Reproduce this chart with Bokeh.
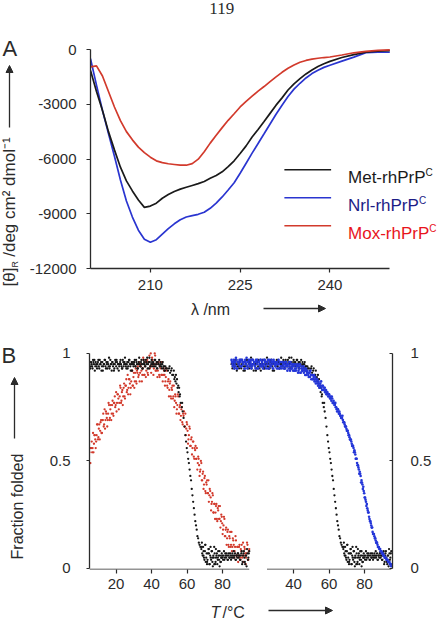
import math
from bokeh.plotting import figure
from bokeh.models import Range1d, LinearAxis, FixedTicker, Label, Arrow, NormalHead
from bokeh.layouts import column, row
from bokeh.embed import file_html
from bokeh.resources import INLINE

FONT = "Liberation Sans"
INK = "#2b2b2b"

# ---------------- Panel A: CD spectra ----------------
wavelength_nm = [200, 201, 202, 203, 204, 205, 206, 207, 208, 209,
                 210, 211, 212, 213, 214, 215, 216, 217, 218, 219,
                 220, 221, 222, 223, 224, 225, 226, 227, 228, 229,
                 230, 231, 232, 233, 234, 235, 236, 237, 238, 239,
                 240, 242, 244, 246, 248, 250]

met_theta = [-1150, -2300, -3340, -4500, -5500, -6450, -7200, -7750, -8250, -8650,
             -8580, -8420, -8150, -7950, -7780, -7650, -7550, -7450, -7350, -7230,
             -7050, -6900, -6700, -6420, -6100, -5700, -5280, -4800, -4380, -3950,
             -3500, -3050, -2650, -2220, -1880, -1600, -1340, -1120, -930, -780,
             -650, -440, -280, -150, -90, -60]

nrl_theta = [-500, -1950, -3340, -4600, -5850, -7150, -8300, -9180, -9900, -10400,
             -10560, -10420, -10120, -9820, -9550, -9330, -9180, -9100, -9030, -8920,
             -8700, -8420, -8080, -7700, -7300, -6780, -6230, -5680, -5150, -4620,
             -4080, -3550, -3060, -2580, -2170, -1850, -1560, -1320, -1140, -980,
             -860, -640, -420, -170, -150, -150]

mox_theta = [-950, -900, -1450, -2300, -3150, -3900, -4500, -4950, -5350, -5650,
             -5900, -6100, -6200, -6260, -6300, -6340, -6340, -6250, -6010, -5600,
             -5130, -4700, -4280, -3880, -3520, -3150, -2840, -2560, -2280, -2030,
             -1760, -1500, -1250, -1030, -850, -700, -600, -530, -480, -440,
             -410, -300, -180, -100, -50, -20]

a_x_ticks = [210, 225, 240]
a_y_ticks = [-12000, -9000, -6000, -3000, 0]

series_names = ["Met-rhPrP", "Nrl-rhPrP", "Mox-rhPrP"]
line_colors = ["#1a1a1a", "#2a35d0", "#d23a2c"]
name_colors = ["#1a1a1a", "#1c1c86", "#e8141c"]

# ---------------- Panel B: thermal unfolding ----------------
scan_T = [5, 5.5, 6, 6.5, 7, 7.5, 8, 8.5, 9, 9.5,
          10, 10.5, 11, 11.5, 12, 12.5, 13, 13.5, 14, 14.5,
          15, 15.5, 16, 16.5, 17, 17.5, 18, 18.5, 19, 19.5,
          20, 20.5, 21, 21.5, 22, 22.5, 23, 23.5, 24, 24.5,
          25, 25.5, 26, 26.5, 27, 27.5, 28, 28.5, 29, 29.5,
          30, 30.5, 31, 31.5, 32, 32.5, 33, 33.5, 34, 34.5,
          35, 35.5, 36, 36.5, 37, 37.5, 38, 38.5, 39, 39.5,
          40, 40.5, 41, 41.5, 42, 42.5, 43, 43.5, 44, 44.5,
          45, 45.5, 46, 46.5, 47, 47.5, 48, 48.5, 49, 49.5,
          50, 50.5, 51, 51.5, 52, 52.5, 53, 53.5, 54, 54.5,
          55, 55.5, 56, 56.5, 57, 57.5, 58, 58.5, 59, 59.5,
          60, 60.5, 61, 61.5, 62, 62.5, 63, 63.5, 64, 64.5,
          65, 65.5, 66, 66.5, 67, 67.5, 68, 68.5, 69, 69.5,
          70, 70.5, 71, 71.5, 72, 72.5, 73, 73.5, 74, 74.5,
          75, 75.5, 76, 76.5, 77, 77.5, 78, 78.5, 79, 79.5,
          80, 80.5, 81, 81.5, 82, 82.5, 83, 83.5, 84, 84.5,
          85, 85.5, 86, 86.5, 87, 87.5, 88, 88.5, 89, 89.5,
          90, 90.5, 91, 91.5, 92, 92.5, 93, 93.5, 94, 94.5,
          95]

# second read-out, interleaved between the scan_T points
scan_T2 = [5.25, 5.75, 6.25, 6.75, 7.25, 7.75, 8.25, 8.75, 9.25, 9.75,
           10.25, 10.75, 11.25, 11.75, 12.25, 12.75, 13.25, 13.75, 14.25, 14.75,
           15.25, 15.75, 16.25, 16.75, 17.25, 17.75, 18.25, 18.75, 19.25, 19.75,
           20.25, 20.75, 21.25, 21.75, 22.25, 22.75, 23.25, 23.75, 24.25, 24.75,
           25.25, 25.75, 26.25, 26.75, 27.25, 27.75, 28.25, 28.75, 29.25, 29.75,
           30.25, 30.75, 31.25, 31.75, 32.25, 32.75, 33.25, 33.75, 34.25, 34.75,
           35.25, 35.75, 36.25, 36.75, 37.25, 37.75, 38.25, 38.75, 39.25, 39.75,
           40.25, 40.75, 41.25, 41.75, 42.25, 42.75, 43.25, 43.75, 44.25, 44.75,
           45.25, 45.75, 46.25, 46.75, 47.25, 47.75, 48.25, 48.75, 49.25, 49.75,
           50.25, 50.75, 51.25, 51.75, 52.25, 52.75, 53.25, 53.75, 54.25, 54.75,
           55.25, 55.75, 56.25, 56.75, 57.25, 57.75, 58.25, 58.75, 59.25, 59.75,
           60.25, 60.75, 61.25, 61.75, 62.25, 62.75, 63.25, 63.75, 64.25, 64.75,
           65.25, 65.75, 66.25, 66.75, 67.25, 67.75, 68.25, 68.75, 69.25, 69.75,
           70.25, 70.75, 71.25, 71.75, 72.25, 72.75, 73.25, 73.75, 74.25, 74.75,
           75.25, 75.75, 76.25, 76.75, 77.25, 77.75, 78.25, 78.75, 79.25, 79.75,
           80.25, 80.75, 81.25, 81.75, 82.25, 82.75, 83.25, 83.75, 84.25, 84.75,
           85.25, 85.75, 86.25, 86.75, 87.25, 87.75, 88.25, 88.75, 89.25, 89.75,
           90.25, 90.75, 91.25, 91.75, 92.25, 92.75, 93.25, 93.75, 94.25, 94.75]

# Met-rhPrPC: plateau 5-48 degC, transition, baseline 68-95 degC
met_plateau_f = [0.95, 0.93, 0.96, 0.94, 0.97, 0.95, 0.92, 0.96, 0.94, 0.95,
                 0.97, 0.93, 0.95, 0.96, 0.94, 0.92, 0.95, 0.97, 0.94, 0.96,
                 0.93, 0.95, 0.98, 0.94, 0.95, 0.92, 0.96, 0.95, 0.93, 0.97,
                 0.94, 0.96, 0.95, 0.92, 0.95, 0.97, 0.94, 0.93, 0.96, 0.95,
                 0.98, 0.94, 0.95, 0.93, 0.96, 0.97, 0.94, 0.95, 0.92, 0.96,
                 0.95, 0.97, 0.94, 0.96, 0.93, 0.95, 0.98, 0.94, 0.96, 0.95,
                 0.93, 0.97, 0.95, 0.94, 0.96, 0.98, 0.95, 0.93, 0.96, 0.94,
                 0.97, 0.95, 0.96, 0.94, 0.97, 0.95, 0.93, 0.96, 0.95, 0.94,
                 0.96, 0.94, 0.95, 0.93, 0.94, 0.92, 0.93]
met_plateau_f2 = [0.96, 0.94, 0.95, 0.93, 0.96, 0.97, 0.94, 0.95, 0.93, 0.96,
                  0.94, 0.97, 0.95, 0.92, 0.96, 0.94, 0.95, 0.97, 0.93, 0.95,
                  0.96, 0.94, 0.93, 0.97, 0.95, 0.96, 0.94, 0.92, 0.95, 0.96,
                  0.97, 0.93, 0.95, 0.94, 0.96, 0.95, 0.93, 0.97, 0.94, 0.96,
                  0.95, 0.93, 0.96, 0.94, 0.97, 0.95, 0.92, 0.96, 0.95, 0.94,
                  0.96, 0.94, 0.97, 0.95, 0.93, 0.96, 0.95, 0.94, 0.97, 0.93,
                  0.95, 0.96, 0.94, 0.97, 0.95, 0.93, 0.96, 0.98, 0.94, 0.95,
                  0.96, 0.94, 0.95, 0.97, 0.94, 0.96, 0.93, 0.95, 0.97, 0.94,
                  0.95, 0.93, 0.96, 0.94, 0.92, 0.94]
met_drop_T = [48.6, 49.2, 49.8, 50.1, 50.4, 51.0, 51.3, 51.6, 52.2, 52.5,
              52.8, 53.1, 53.4, 53.7, 54.0, 54.3, 54.6, 55.0, 55.2, 55.5,
              55.8, 56.0, 56.4, 57.0, 57.2, 57.5, 58.0, 58.5, 59.0, 59.4,
              59.8, 60.2, 60.6, 61.0, 61.4, 61.8, 62.2, 62.6, 63.0, 63.4,
              63.8, 64.2, 64.6, 65.0, 65.4, 65.8, 66.2, 66.6, 67.0, 67.5]
met_drop_f = [0.93, 0.92, 0.93, 0.94, 0.91, 0.92, 0.93, 0.90, 0.90, 0.92,
              0.88, 0.89, 0.87, 0.90, 0.86, 0.88, 0.84, 0.85, 0.82, 0.84,
              0.80, 0.81, 0.77, 0.75, 0.77, 0.73, 0.70, 0.66, 0.62, 0.59,
              0.56, 0.54, 0.51, 0.49, 0.46, 0.43, 0.41, 0.37, 0.34, 0.31,
              0.28, 0.25, 0.22, 0.20, 0.18, 0.15, 0.14, 0.12, 0.11, 0.10]
met_tail_f = [0.09, 0.07, 0.10, 0.05, 0.08, 0.03, 0.07, 0.04, 0.09, 0.02,
              0.06, 0.04, 0.08, 0.01, 0.05, 0.07, 0.03, 0.06, 0.02, 0.08,
              0.04, 0.06, 0.03, 0.07, 0.05, 0.06, 0.04, 0.07, 0.05, 0.06,
              0.04, 0.07, 0.05, 0.06, 0.05, 0.07, 0.06, 0.05, 0.07, 0.04,
              0.06, 0.07, 0.05, 0.06, 0.04, 0.07, 0.02, 0.06, 0.08, 0.03,
              0.06, 0.01, 0.07, 0.05, 0.08]
met_tail_f2 = [0.10, 0.06, 0.08, 0.04, 0.11, 0.05, 0.03, 0.07, 0.09, 0.02,
               0.05, 0.08, 0.03, 0.06, 0.10, 0.02, 0.05, 0.07, 0.04, 0.06,
               0.08, 0.03, 0.05, 0.06, 0.04, 0.08, 0.05, 0.06, 0.07, 0.04,
               0.06, 0.05, 0.07, 0.04, 0.06, 0.05, 0.08, 0.06, 0.04, 0.06,
               0.05, 0.07, 0.06, 0.04, 0.06, 0.08, 0.03, 0.07, 0.05, 0.02,
               0.06, 0.09, 0.04, 0.07]
met_extra_T = [68.3, 69.2, 70.2, 71.2, 72.3, 73.2, 74.2, 75.3, 76.2, 77.3, 78.3, 79.3]
met_extra_f = [0.12, 0.06, 0.11, 0.02, 0.07, 0.10, 0.05, 0.02, 0.09, 0.05, 0.01, 0.05]

met_T = (scan_T[:87] + scan_T2[:86] + met_drop_T + scan_T[126:] + scan_T2[126:]
         + met_extra_T)
met_f = met_plateau_f + met_plateau_f2 + met_drop_f + met_tail_f + met_tail_f2 + met_extra_f

# Mox-rhPrPC
mox_f = [0.54, 0.49, 0.56, 0.54, 0.63, 0.58, 0.62, 0.56, 0.62, 0.67,
         0.61, 0.67, 0.64, 0.69, 0.63, 0.69, 0.66, 0.74, 0.69, 0.72,
         0.66, 0.72, 0.76, 0.70, 0.76, 0.72, 0.78, 0.71, 0.77, 0.75,
         0.82, 0.77, 0.81, 0.74, 0.80, 0.84, 0.78, 0.83, 0.80, 0.86,
         0.79, 0.85, 0.82, 0.90, 0.84, 0.88, 0.81, 0.87, 0.92, 0.85,
         0.91, 0.87, 0.93, 0.86, 0.91, 0.89, 0.96, 0.91, 0.94, 0.87,
         0.93, 0.97, 0.90, 0.96, 0.92, 0.97, 0.90, 0.96, 0.93, 1.00,
         0.94, 0.97, 0.90, 0.95, 0.99, 0.92, 0.96, 0.92, 0.96, 0.89,
         0.93, 0.90, 0.96, 0.90, 0.92, 0.85, 0.89, 0.92, 0.84, 0.88,
         0.83, 0.87, 0.79, 0.83, 0.79, 0.85, 0.78, 0.80, 0.72, 0.76,
         0.80, 0.72, 0.76, 0.71, 0.75, 0.67, 0.71, 0.66, 0.72, 0.65,
         0.67, 0.58, 0.62, 0.65, 0.57, 0.61, 0.56, 0.59, 0.51, 0.55,
         0.51, 0.56, 0.49, 0.51, 0.43, 0.46, 0.49, 0.41, 0.45, 0.39,
         0.43, 0.35, 0.39, 0.35, 0.41, 0.34, 0.36, 0.27, 0.31, 0.34,
         0.26, 0.30, 0.26, 0.30, 0.22, 0.27, 0.23, 0.29, 0.22, 0.24,
         0.16, 0.20, 0.23, 0.15, 0.19, 0.14, 0.18, 0.10, 0.14, 0.10,
         0.17, 0.10, 0.13, 0.05, 0.10, 0.13, 0.06, 0.10, 0.06, 0.11,
         0.04, 0.08, 0.05, 0.12, 0.06, 0.09, 0.02, 0.07, 0.11, 0.04,
         0.09]
mox_f2 = [0.49, 0.56, 0.59, 0.56, 0.54, 0.62, 0.60, 0.59, 0.67, 0.60,
          0.65, 0.60, 0.68, 0.63, 0.69, 0.72, 0.67, 0.65, 0.73, 0.70,
          0.69, 0.77, 0.69, 0.74, 0.69, 0.76, 0.72, 0.77, 0.80, 0.76,
          0.73, 0.81, 0.79, 0.77, 0.85, 0.77, 0.82, 0.76, 0.84, 0.80,
          0.85, 0.88, 0.83, 0.81, 0.88, 0.86, 0.84, 0.92, 0.85, 0.89,
          0.84, 0.91, 0.87, 0.92, 0.94, 0.90, 0.87, 0.95, 0.92, 0.90,
          0.98, 0.90, 0.94, 0.89, 0.96, 0.91, 0.96, 0.99, 0.94, 0.91,
          0.98, 0.95, 0.93, 1.00, 0.92, 0.95, 0.89, 0.95, 0.90, 0.94,
          0.96, 0.90, 0.87, 0.93, 0.90, 0.87, 0.93, 0.85, 0.87, 0.80,
          0.86, 0.80, 0.84, 0.85, 0.80, 0.75, 0.81, 0.77, 0.74, 0.81,
          0.72, 0.75, 0.69, 0.74, 0.68, 0.72, 0.73, 0.66, 0.62, 0.68,
          0.64, 0.60, 0.66, 0.57, 0.60, 0.53, 0.59, 0.52, 0.56, 0.57,
          0.51, 0.46, 0.52, 0.48, 0.45, 0.50, 0.41, 0.44, 0.37, 0.42,
          0.36, 0.40, 0.41, 0.35, 0.31, 0.37, 0.33, 0.30, 0.35, 0.26,
          0.30, 0.23, 0.29, 0.23, 0.28, 0.29, 0.23, 0.19, 0.25, 0.21,
          0.18, 0.24, 0.15, 0.18, 0.11, 0.17, 0.11, 0.15, 0.17, 0.11,
          0.08, 0.14, 0.11, 0.08, 0.15, 0.06, 0.10, 0.03, 0.10, 0.05,
          0.09, 0.11, 0.06, 0.03, 0.10, 0.07, 0.05, 0.12, 0.04, 0.08]

# Nrl-rhPrPC
nrl_f = [0.97, 0.95, 0.96, 0.93, 0.96, 0.98, 0.93, 0.96, 0.95, 0.97,
         0.96, 0.94, 0.97, 0.95, 0.96, 0.93, 0.96, 0.98, 0.93, 0.96,
         0.95, 0.97, 0.95, 0.94, 0.97, 0.95, 0.96, 0.93, 0.96, 0.97,
         0.93, 0.96, 0.94, 0.97, 0.95, 0.94, 0.97, 0.95, 0.96, 0.93,
         0.96, 0.97, 0.93, 0.96, 0.94, 0.97, 0.95, 0.93, 0.96, 0.95,
         0.96, 0.93, 0.95, 0.97, 0.93, 0.96, 0.94, 0.96, 0.95, 0.93,
         0.96, 0.94, 0.95, 0.92, 0.95, 0.96, 0.92, 0.95, 0.93, 0.95,
         0.94, 0.92, 0.95, 0.93, 0.94, 0.91, 0.94, 0.95, 0.91, 0.93,
         0.92, 0.94, 0.92, 0.90, 0.93, 0.91, 0.91, 0.89, 0.91, 0.92,
         0.88, 0.90, 0.88, 0.90, 0.88, 0.86, 0.88, 0.86, 0.87, 0.84,
         0.86, 0.87, 0.83, 0.85, 0.83, 0.84, 0.82, 0.81, 0.82, 0.80,
         0.81, 0.79, 0.79, 0.80, 0.77, 0.78, 0.76, 0.77, 0.75, 0.73,
         0.74, 0.72, 0.72, 0.71, 0.70, 0.71, 0.68, 0.68, 0.66, 0.66,
         0.64, 0.64, 0.62, 0.61, 0.60, 0.59, 0.57, 0.57, 0.54, 0.54,
         0.51, 0.51, 0.48, 0.47, 0.44, 0.44, 0.40, 0.40, 0.37, 0.36,
         0.33, 0.32, 0.29, 0.28, 0.26, 0.24, 0.22, 0.21, 0.19, 0.17,
         0.16, 0.15, 0.14, 0.12, 0.12, 0.10, 0.10, 0.09, 0.08, 0.08,
         0.07, 0.06, 0.06, 0.05, 0.05, 0.04, 0.04, 0.03, 0.03, 0.02,
         0.01]
nrl_f2 = [0.96, 0.94, 0.97, 0.95, 0.94, 0.97, 0.93, 0.96, 0.95, 0.94,
          0.97, 0.94, 0.96, 0.95, 0.93, 0.97, 0.95, 0.94, 0.96, 0.97,
          0.94, 0.96, 0.93, 0.97, 0.95, 0.96, 0.94, 0.97, 0.95, 0.93,
          0.96, 0.95, 0.97, 0.94, 0.96, 0.93, 0.95, 0.97, 0.94, 0.96,
          0.95, 0.93, 0.97, 0.95, 0.94, 0.96, 0.93, 0.97, 0.95, 0.94,
          0.95, 0.96, 0.93, 0.95, 0.96, 0.94, 0.93, 0.96, 0.94, 0.95,
          0.93, 0.96, 0.94, 0.95, 0.93, 0.94, 0.96, 0.93, 0.94, 0.92,
          0.95, 0.93, 0.92, 0.94, 0.95, 0.92, 0.93, 0.91, 0.94, 0.92,
          0.93, 0.91, 0.93, 0.92, 0.90, 0.92, 0.90, 0.91, 0.89, 0.90,
          0.90, 0.88, 0.89, 0.87, 0.89, 0.87, 0.88, 0.85, 0.86, 0.85,
          0.85, 0.84, 0.85, 0.83, 0.84, 0.82, 0.83, 0.81, 0.81, 0.81,
          0.80, 0.80, 0.78, 0.79, 0.77, 0.77, 0.76, 0.75, 0.74, 0.74,
          0.73, 0.73, 0.71, 0.70, 0.70, 0.69, 0.68, 0.67, 0.66, 0.65,
          0.64, 0.63, 0.62, 0.60, 0.60, 0.58, 0.57, 0.56, 0.55, 0.53,
          0.51, 0.49, 0.48, 0.46, 0.45, 0.43, 0.41, 0.39, 0.38, 0.35,
          0.33, 0.31, 0.30, 0.27, 0.26, 0.23, 0.22, 0.20, 0.19, 0.16,
          0.16, 0.14, 0.13, 0.12, 0.11, 0.10, 0.09, 0.09, 0.08, 0.07,
          0.07, 0.06, 0.05, 0.05, 0.04, 0.04, 0.03, 0.03, 0.02, 0.02]

mox_T = scan_T + scan_T2
mox_all = mox_f + mox_f2
nrl_T = scan_T + scan_T2
nrl_all = nrl_f + nrl_f2

b_y_ticks = [0, 0.5, 1]
left_T_ticks = [20, 40, 60, 80]
right_T_ticks = [40, 60, 80]
left_T_span = (5, 95)
right_T_span = (25, 95)

# the right-hand panel shares the x scale, shifted along by this many degrees
SHIFT = 80
dot_black, dot_red, dot_blue = "#151515", "#d2392b", "#2436d8"

# ---------------- page geometry (pixels) ----------------
W, H = 438, 624
STRIP_W = 26          # left strip holding the rotated axis titles
TOP_H = 298           # panel A figure height
MID_H = 300           # panel B figure height
BOT_H = H - TOP_H - MID_H
NBSP = "\u00a0"


def style_axis(axis, standoff, tick_out=4, tick_in=0):
    axis.axis_line_color = INK
    axis.axis_line_width = 1.3
    axis.major_tick_line_color = INK
    axis.major_tick_line_width = 1.2
    axis.major_tick_out = tick_out
    axis.major_tick_in = tick_in
    axis.minor_tick_line_color = None
    axis.major_label_standoff = standoff
    axis.major_label_text_font = FONT
    axis.major_label_text_font_size = "15px"
    axis.major_label_text_color = INK


def text_label(fig, x, y, text, size, **kw):
    opts = dict(text_font=FONT, text_font_size=size, text_color=INK,
                text_align="left", text_baseline="alphabetic")
    opts.update(kw)
    fig.add_layout(Label(x=x, y=y, text=text, **opts))


def arrow(fig, x0, y0, x1, y1):
    fig.add_layout(Arrow(x_start=x0, y_start=y0, x_end=x1, y_end=y1,
                         line_color=INK, line_width=1.3,
                         end=NormalHead(size=7, fill_color=INK, line_color=INK)))


def bare_figure(width, height):
    f = figure(width=width, height=height, x_range=Range1d(0, width),
               y_range=Range1d(height, 0), title=None,
               x_axis_location=None, y_axis_location=None,
               output_backend="svg", toolbar_location=None, frame_align=False,
               min_border_left=0, min_border_right=0, min_border_top=0, min_border_bottom=0,
               background_fill_color="white", border_fill_color="white",
               outline_line_color=None)
    f.grid.visible = False
    return f


# ---------- figure A (CD spectra) ----------
A_L, A_R, A_T, A_B = 88, 389, 49, 268       # axis extents on the page
a_px_nm = (A_R - A_L) / 50.0
a_px_unit = (A_B - A_T) / 12000.0
pa = figure(width=W - STRIP_W, height=TOP_H,
            x_range=Range1d(200, 200 + (W - A_L) / a_px_nm),
            y_range=Range1d(-12000, A_T / a_px_unit),
            title=None, output_backend="svg", toolbar_location=None, frame_align=False,
            min_border_left=A_L - STRIP_W, min_border_right=0,
            min_border_top=0, min_border_bottom=TOP_H - A_B,
            background_fill_color="white", border_fill_color="white",
            outline_line_color=None)
pa.grid.visible = False
pa.xaxis.ticker = FixedTicker(ticks=a_x_ticks)
pa.xaxis.bounds = (200, 250)
pa.yaxis.ticker = FixedTicker(ticks=a_y_ticks)
pa.yaxis.bounds = (-12000, 0)
pa.yaxis.major_label_overrides = {t: str(t) for t in a_y_ticks}
style_axis(pa.xaxis[0], standoff=7)
style_axis(pa.yaxis[0], standoff=10)


def ax(px):
    return 200 + (px - A_L) / a_px_nm


def ay(py):
    return (A_T - py) / a_px_unit


for theta, c in [(nrl_theta, line_colors[1]), (met_theta, line_colors[0]),
                 (mox_theta, line_colors[2])]:
    pa.line(wavelength_nm, theta, line_color=c, line_width=1.7)

name_widths = [77.5, 70.8, 81.2]
for i, (nm, lc, tc, w) in enumerate(zip(series_names, line_colors, name_colors, name_widths)):
    ly = 169.3 + 28 * i
    pa.segment(x0=[ax(283)], y0=[ay(ly)], x1=[ax(330)], y1=[ay(ly)],
               line_color=lc, line_width=1.5)
    text_label(pa, ax(347), ay(ly + 8), nm, "17px", text_color=tc)
    text_label(pa, ax(347 + w + 0.5), ay(ly + 3), "C", "10px", text_color=tc)

text_label(pa, ax(220), ay(7.5), "119", "17px", text_align="center",
           text_font="Liberation Serif")

# ---------- figure B (thermal unfolding) ----------
B_L, B_R, B_T, B_B = 89, 392, TOP_H, 569
PX_PER_DEG = 1.775
PX_PER_FRAC = 215.0
x_lo = left_T_span[0]
x_hi = x_lo + (B_R - B_L) / PX_PER_DEG
y_lo = -0.005
y_hi = y_lo + (B_B - B_T) / PX_PER_FRAC
pb = figure(width=W - STRIP_W, height=MID_H, x_range=Range1d(x_lo, x_hi),
            y_range=Range1d(y_lo, y_hi), title=None,
            output_backend="svg", toolbar_location=None, frame_align=False,
            min_border_left=B_L - STRIP_W, min_border_right=W - B_R,
            min_border_top=0, min_border_bottom=TOP_H + MID_H - B_B,
            background_fill_color="white", border_fill_color="white",
            outline_line_color=None)
pb.grid.visible = False


def bx(px):
    return x_lo + (px - B_L) / PX_PER_DEG


def by(py):
    return y_lo + (B_B - py) / PX_PER_FRAC


pb.xaxis.ticker = FixedTicker(ticks=left_T_ticks + [t + SHIFT for t in right_T_ticks])
pb.xaxis.major_label_overrides = {t + SHIFT: str(t) for t in right_T_ticks}
style_axis(pb.xaxis[0], standoff=5)
pb.xaxis.axis_line_color = None
for lo, hi in [left_T_span, (right_T_span[0] + SHIFT, right_T_span[1] + SHIFT)]:
    pb.add_layout(Arrow(x_start=lo, y_start=y_lo, x_end=hi, y_end=y_lo,
                        start=None, end=None, line_color=INK, line_width=1.6))

tick_names = {0: "0", 0.5: "0.5", 1: "1"}
pb.yaxis.ticker = FixedTicker(ticks=b_y_ticks)
pb.yaxis.major_label_overrides = tick_names
pb.yaxis.bounds = (0, 1)
style_axis(pb.yaxis[0], standoff=16, tick_out=3)

right_axis = LinearAxis(ticker=FixedTicker(ticks=b_y_ticks), bounds=(0, 1),
                        major_label_overrides=tick_names)
style_axis(right_axis, standoff=18, tick_out=0, tick_in=3)
pb.add_layout(right_axis, "right")

DOT = 2.3
pb.scatter(mox_T, mox_all, size=DOT, fill_color=dot_red, line_color=None)
pb.scatter(met_T, met_f, size=DOT, fill_color=dot_black, line_color=None)
pb.scatter([t + SHIFT for t in met_T], met_f, size=DOT, fill_color=dot_black, line_color=None)
pb.scatter([t + SHIFT for t in nrl_T], nrl_all, size=DOT + 0.3, fill_color=dot_blue,
           line_color=None)

# x title of panel A sits just above panel B
text_label(pb, bx(210), by(309), "λ /nm", "16px", text_align="center", text_baseline="middle")
arrow(pb, bx(263), by(308), bx(325), by(308))

# ---------- left strip: panel letters and y titles ----------
left = bare_figure(STRIP_W, TOP_H + MID_H)
text_label(left, 2, 48, "A", "22px")
text_label(left, 9, 286, "[θ]", "17px", angle=math.pi / 2, text_baseline="middle")
text_label(left, 14, 267, "R", "9px", angle=math.pi / 2, text_baseline="middle")
text_label(left, 9, 261, NBSP + "/deg cm² dmol⁻¹", "17px", angle=math.pi / 2,
           text_baseline="middle")
arrow(left, 9, 127, 9, 65)
text_label(left, 1, 355, "B", "22px")
text_label(left, 16.5, 506, "Fraction folded", "16px", angle=math.pi / 2,
           text_align="center", text_baseline="middle")
arrow(left, 14, 438, 14, 377)

# ---------- bottom strip: x title of panel B ----------
bottom = bare_figure(W, BOT_H)
base = TOP_H + MID_H
text_label(bottom, 210, 612 - base, "T", "16px", text_font_style="italic",
           text_baseline="middle")
text_label(bottom, 222, 612 - base, "/°C", "16px", text_baseline="middle")
arrow(bottom, 268, 610 - base, 332, 610 - base)

layout = column(row(left, column(pa, pb, spacing=0), spacing=0), bottom, spacing=0)
open("out.html", "w").write(file_html(layout, INLINE))
